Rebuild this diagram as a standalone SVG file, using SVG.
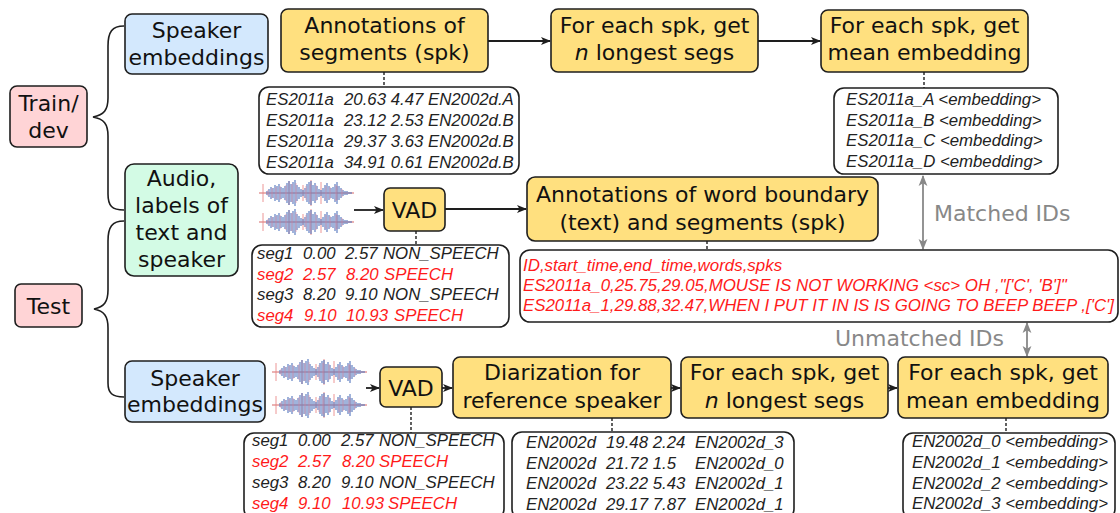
<svg xmlns="http://www.w3.org/2000/svg" xmlns:xlink="http://www.w3.org/1999/xlink" width="1120" height="513" viewBox="0 0 1120 513">
  <style>
    .box { stroke: #1e1e1e; stroke-width: 1.6; }
    .proc { fill: #ffe07f; }
    .spk { fill: #d3e8fd; }
    .split { fill: #ffd4d6; }
    .audio { fill: #d3fbe5; }
    .data { fill: #ffffff; stroke: #1e1e1e; stroke-width: 1.6; }
    .lbl { font-family: "DejaVu Sans", Verdana, sans-serif; font-size: 22px; fill: #111; text-anchor: middle; }
    .mono { font-family: "Liberation Sans", Arial, sans-serif; font-size: 16.8px; font-style: italic; fill: #222; }
    .csv { font-size: 16.9px; }
    .red { fill: #ff1a1a; }
    .gray { font-family: "DejaVu Sans", Verdana, sans-serif; font-size: 22px; fill: #888; }
    .arrow { stroke: #1e1e1e; stroke-width: 1.8; fill: none; marker-end: url(#ah); }
    .dash { stroke: #1e1e1e; stroke-width: 1.4; stroke-dasharray: 3 2; fill: none; }
    .brace { stroke: #1e1e1e; stroke-width: 1.6; fill: none; }
    .gline { stroke: #888; stroke-width: 1.8; fill: none; marker-start: url(#gh); marker-end: url(#gh); }
  </style>
  <defs>
    <marker id="ah" viewBox="0 0 10 10" refX="9" refY="5" markerWidth="10" markerHeight="10" markerUnits="userSpaceOnUse" orient="auto">
      <path d="M0,1 L10,5 L0,9 L2.5,5 Z" fill="#1e1e1e"/>
    </marker>
    <marker id="gh" viewBox="0 0 10 10" refX="9" refY="5" markerWidth="11" markerHeight="11" markerUnits="userSpaceOnUse" orient="auto-start-reverse">
      <path d="M0,1 L10,5 L0,9 L2.5,5 Z" fill="#888"/>
    </marker>
    <!-- audio waveform glyph, centred on y=0, about 95 wide -->
    <g id="wave">
      <line x1="0" y1="0" x2="95" y2="0" stroke="#e59a9a" stroke-width="1.4"/>
      <path stroke="#e98484" stroke-width="1" opacity="0.85" fill="none"
        d="M4,-9V9 M30,-12V12 M44,-8V8 M52,-13V13 M62,-11V11 M78,-7V7"/>
      <path stroke="#5577bf" stroke-width="1.6" opacity="0.7" fill="none"
        d="M8,-2V2 M10,-4V4 M12,-6V6 M14,-5V5 M16,-8V8 M18,-7V7 M20,-9V9 M22,-6V6 M24,-5V5 M26,-7V7 M28,-10V10 M30,-12V12 M32,-9V9 M34,-11V11 M36,-13V13 M38,-8V8 M40,-6V6 M42,-4V4 M44,-3V3 M46,-5V5 M48,-9V9 M50,-11V11 M52,-12V12 M54,-8V8 M56,-10V10 M58,-7V7 M60,-4V4 M62,-3V3 M64,-5V5 M66,-8V8 M68,-10V10 M70,-7V7 M72,-5V5 M74,-6V6 M76,-9V9 M78,-11V11 M80,-7V7 M82,-5V5 M84,-3V3 M86,-2V2 M88,-2V2 M90,-1V1 M92,-1V1"/>
      <path stroke="#d9849a" stroke-width="1" opacity="0.6" fill="none"
        d="M9,-3V3 M13,-5V5 M17,-6V6 M21,-7V7 M27,-8V8 M33,-9V9 M37,-10V10 M47,-7V7 M51,-9V9 M57,-8V8 M67,-7V7 M71,-6V6 M77,-8V8 M83,-4V4"/>
    </g>
  </defs>

  <rect width="1120" height="513" fill="#ffffff"/>

  <!-- connectors -->
  <g id="connectors">
    <!-- braces -->
    <path class="brace" d="M124,26 C112,26 108,32 108,46 L108,98 C108,110 104,115 93,117 C104,119 108,124 108,136 L108,194 C108,206 112,210 124,210"/>
    <path class="brace" d="M124,221 C112,221 108,227 108,241 L108,290 C108,302 104,307 94,309 C104,311 108,316 108,328 L108,383 C108,393 112,397 124,397"/>
    <!-- top row -->
    <line class="arrow" x1="488" y1="41" x2="550" y2="41"/>
    <line class="arrow" x1="758" y1="41" x2="820" y2="41"/>
    <line class="dash" x1="384" y1="72" x2="384" y2="87"/>
    <line class="dash" x1="924" y1="72" x2="924" y2="88"/>
    <!-- middle row -->
    <line class="arrow" x1="354" y1="210" x2="383" y2="210"/>
    <line class="arrow" x1="445" y1="209" x2="526" y2="209"/>
    <line class="dash" x1="416" y1="231" x2="416" y2="245"/>
    <line class="dash" x1="707" y1="241" x2="707" y2="250"/>
    <line class="gline" x1="923" y1="176" x2="923" y2="249"/>
    <line class="gline" x1="1027" y1="323" x2="1027" y2="356"/>
    <!-- bottom row -->
    <line class="arrow" x1="366" y1="388" x2="379" y2="388"/>
    <line class="arrow" x1="442" y1="388" x2="452" y2="388"/>
    <line class="arrow" x1="671" y1="388" x2="680" y2="388"/>
    <line class="arrow" x1="888" y1="388" x2="897" y2="388"/>
    <line class="dash" x1="411" y1="407" x2="411" y2="433"/>
    <line class="dash" x1="612" y1="418" x2="612" y2="432"/>
    <line class="dash" x1="1006" y1="418" x2="1006" y2="433"/>
  </g>

  <!-- split labels -->
  <g id="train-dev">
    <rect class="box split" x="10" y="86" width="77" height="61" rx="7"/>
    <text class="lbl" x="48.5" y="111">Train/</text>
    <text class="lbl" x="48.5" y="138">dev</text>
  </g>
  <g id="test">
    <rect class="box split" x="15" y="284" width="67" height="43" rx="6"/>
    <text class="lbl" x="48.5" y="314">Test</text>
  </g>

  <!-- inputs -->
  <g id="spk-emb-train">
    <rect class="box spk" x="125" y="14" width="143" height="60" rx="7"/>
    <text class="lbl" x="196.5" y="38">Speaker</text>
    <text class="lbl" x="196.5" y="65">embeddings</text>
  </g>
  <g id="audio-labels">
    <rect class="box audio" x="125" y="164" width="113" height="112" rx="9"/>
    <text class="lbl" x="181.5" y="186">Audio,</text>
    <text class="lbl" x="181.5" y="213">labels of</text>
    <text class="lbl" x="181.5" y="240">text and</text>
    <text class="lbl" x="181.5" y="267">speaker</text>
  </g>
  <g id="spk-emb-test">
    <rect class="box spk" x="125" y="361" width="140" height="61" rx="7"/>
    <text class="lbl" x="195" y="386">Speaker</text>
    <text class="lbl" x="195" y="412">embeddings</text>
  </g>

  <!-- top row: train/dev speaker embeddings -->
  <g id="annot-seg">
    <rect class="box proc" x="281" y="9" width="207" height="63" rx="7"/>
    <text class="lbl" x="384.5" y="33">Annotations of</text>
    <text class="lbl" x="384.5" y="60">segments (spk)</text>
  </g>
  <g id="longest-train">
    <rect class="box proc" x="551" y="9" width="207" height="63" rx="7"/>
    <text class="lbl" x="654.5" y="33">For each spk, get</text>
    <text class="lbl" x="654.5" y="60"><tspan font-style="italic">n</tspan> longest segs</text>
  </g>
  <g id="mean-train">
    <rect class="box proc" x="821" y="10" width="207" height="62" rx="7"/>
    <text class="lbl" x="924.5" y="33">For each spk, get</text>
    <text class="lbl" x="924.5" y="60">mean embedding</text>
  </g>
  <g id="seg-table-train">
    <rect class="data" x="259" y="87" width="260" height="87" rx="10"/>
    <text class="mono" y="105"><tspan x="266">ES2011a</tspan><tspan x="344">20.63 4.47 EN2002d.A</tspan></text>
    <text class="mono" y="126"><tspan x="266">ES2011a</tspan><tspan x="344">23.12 2.53 EN2002d.B</tspan></text>
    <text class="mono" y="147"><tspan x="266">ES2011a</tspan><tspan x="344">29.37 3.63 EN2002d.B</tspan></text>
    <text class="mono" y="168"><tspan x="266">ES2011a</tspan><tspan x="344">34.91 0.61 EN2002d.B</tspan></text>
  </g>
  <g id="emb-table-train">
    <rect class="data" x="834" y="88" width="224" height="86" rx="10"/>
    <text class="mono" x="846" y="105">ES2011a_A &lt;embedding&gt;</text>
    <text class="mono" x="846" y="125.5">ES2011a_B &lt;embedding&gt;</text>
    <text class="mono" x="846" y="146">ES2011a_C &lt;embedding&gt;</text>
    <text class="mono" x="846" y="166.5">ES2011a_D &lt;embedding&gt;</text>
  </g>

  <!-- middle row: audio and labels -->
  <g id="wave-train">
    <use xlink:href="#wave" x="259" y="193"/>
    <use xlink:href="#wave" x="259" y="222"/>
  </g>
  <g id="vad-train">
    <rect class="box proc" x="384" y="188" width="61" height="43" rx="6"/>
    <text class="lbl" x="414.5" y="218">VAD</text>
  </g>
  <g id="annot-word">
    <rect class="box proc" x="527" y="177" width="351" height="64" rx="8"/>
    <text class="lbl" x="702.5" y="202">Annotations of word boundary</text>
    <text class="lbl" x="702.5" y="230">(text) and segments (spk)</text>
  </g>
  <g id="vad-table-train">
    <rect class="data" x="252" y="245" width="257" height="82" rx="10"/>
    <text class="mono" y="259"><tspan x="257">seg1</tspan><tspan x="303">0.00</tspan><tspan x="345">2.57</tspan><tspan x="383">NON_SPEECH</tspan></text>
    <text class="mono red" y="279.5"><tspan x="257">seg2</tspan><tspan x="303">2.57</tspan><tspan x="346">8.20</tspan><tspan x="384">SPEECH</tspan></text>
    <text class="mono" y="300"><tspan x="257">seg3</tspan><tspan x="303">8.20</tspan><tspan x="345">9.10</tspan><tspan x="383">NON_SPEECH</tspan></text>
    <text class="mono red" y="320.5"><tspan x="257">seg4</tspan><tspan x="304">9.10</tspan><tspan x="346">10.93</tspan><tspan x="394">SPEECH</tspan></text>
  </g>
  <g id="word-table">
    <rect class="data" x="520" y="250" width="598" height="72" rx="10"/>
    <text class="mono csv red" x="523" y="271">ID,start_time,end_time,words,spks</text>
    <text class="mono csv red" x="523" y="291">ES2011a_0,25.75,29.05,MOUSE IS NOT WORKING &lt;sc&gt; OH ,"['C', 'B']"</text>
    <text class="mono csv red" x="523" y="311" textLength="591" lengthAdjust="spacingAndGlyphs">ES2011a_1,29.88,32.47,WHEN I PUT IT IN IS IS GOING TO BEEP BEEP ,['C']</text>
  </g>
  <g id="id-match">
    <text class="gray" x="934" y="221">Matched IDs</text>
    <text class="gray" x="835" y="346">Unmatched IDs</text>
  </g>

  <!-- bottom row: test speaker embeddings -->
  <g id="wave-test">
    <use xlink:href="#wave" x="272" y="372"/>
    <use xlink:href="#wave" x="272" y="405"/>
  </g>
  <g id="vad-test">
    <rect class="box proc" x="380" y="367" width="62" height="40" rx="6"/>
    <text class="lbl" x="411" y="396">VAD</text>
  </g>
  <g id="diarization">
    <rect class="box proc" x="453" y="357" width="218" height="61" rx="7"/>
    <text class="lbl" x="562" y="380">Diarization for</text>
    <text class="lbl" x="562" y="408">reference speaker</text>
  </g>
  <g id="longest-test">
    <rect class="box proc" x="681" y="357" width="207" height="61" rx="7"/>
    <text class="lbl" x="784.5" y="380">For each spk, get</text>
    <text class="lbl" x="784.5" y="408"><tspan font-style="italic">n</tspan> longest segs</text>
  </g>
  <g id="mean-test">
    <rect class="box proc" x="898" y="357" width="210" height="61" rx="7"/>
    <text class="lbl" x="1003" y="380">For each spk, get</text>
    <text class="lbl" x="1003" y="408">mean embedding</text>
  </g>
  <g id="vad-table-test">
    <rect class="data" x="244" y="433" width="260" height="86" rx="10"/>
    <text class="mono" y="446"><tspan x="252">seg1</tspan><tspan x="298">0.00</tspan><tspan x="341">2.57</tspan><tspan x="379">NON_SPEECH</tspan></text>
    <text class="mono red" y="467"><tspan x="252">seg2</tspan><tspan x="298">2.57</tspan><tspan x="342">8.20</tspan><tspan x="379">SPEECH</tspan></text>
    <text class="mono" y="488"><tspan x="252">seg3</tspan><tspan x="298">8.20</tspan><tspan x="341">9.10</tspan><tspan x="379">NON_SPEECH</tspan></text>
    <text class="mono red" y="509"><tspan x="252">seg4</tspan><tspan x="298">9.10</tspan><tspan x="342">10.93</tspan><tspan x="388">SPEECH</tspan></text>
  </g>
  <g id="diar-table">
    <rect class="data" x="512" y="432" width="282" height="87" rx="10"/>
    <text class="mono" y="448"><tspan x="526">EN2002d</tspan><tspan x="606">19.48 2.24</tspan><tspan x="695">EN2002d_3</tspan></text>
    <text class="mono" y="468.5"><tspan x="526">EN2002d</tspan><tspan x="606">21.72 1.5</tspan><tspan x="695">EN2002d_0</tspan></text>
    <text class="mono" y="489"><tspan x="526">EN2002d</tspan><tspan x="606">23.22 5.43</tspan><tspan x="695">EN2002d_1</tspan></text>
    <text class="mono" y="509.5"><tspan x="526">EN2002d</tspan><tspan x="606">29.17 7.87</tspan><tspan x="695">EN2002d_1</tspan></text>
  </g>
  <g id="emb-table-test">
    <rect class="data" x="903" y="433" width="212" height="86" rx="10"/>
    <text class="mono" x="912" y="447">EN2002d_0 &lt;embedding&gt;</text>
    <text class="mono" x="912" y="468">EN2002d_1 &lt;embedding&gt;</text>
    <text class="mono" x="912" y="489">EN2002d_2 &lt;embedding&gt;</text>
    <text class="mono" x="912" y="509">EN2002d_3 &lt;embedding&gt;</text>
  </g>
</svg>
